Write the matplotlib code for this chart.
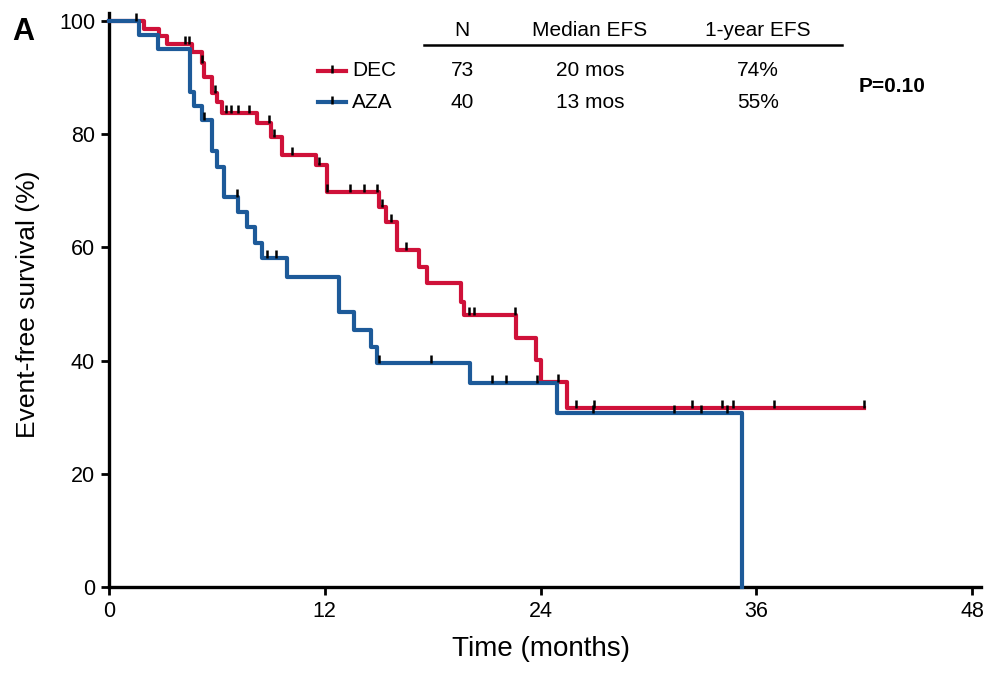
import numpy as np
import matplotlib.pyplot as plt
from matplotlib.lines import Line2D

# Kaplan-Meier step data (months, EFS %)
dec_times = [0, 1.95, 2.78, 3.23, 4.62, 5.18, 5.3, 5.73, 6.0, 6.29, 8.24, 9.0, 9.6,
             11.5, 12.1, 15.0, 15.4, 16.0, 17.25, 17.7, 19.6, 19.75, 22.65, 23.76,
             24.0, 25.5]
dec_surv = [100, 98.6, 97.3, 95.9, 94.5, 92.6, 90.1, 87.3, 85.7, 83.7, 82.0, 79.5, 76.3,
            74.6, 69.8, 67.1, 64.5, 59.5, 56.5, 53.7, 50.4, 48.1, 44.0, 40.1,
            36.2, 31.6]
dec_end = 42.0
dec_cens = [1.5, 4.2, 4.45, 5.2, 5.9, 6.5, 6.8, 7.2, 7.8, 8.9, 9.2, 10.2, 11.7, 12.1,
            13.4, 14.2, 14.9, 15.2, 15.7, 16.5, 20.0, 20.3, 22.6, 25.0, 26.0, 27.0,
            32.4, 34.1, 34.7, 37.0, 42.0]

aza_times = [0, 1.67, 2.73, 4.5, 4.7, 5.2, 5.75, 6.0, 6.4, 7.2, 7.7, 8.1, 8.5, 9.9,
             12.8, 13.6, 14.6, 14.9, 20.1, 24.9, 35.2]
aza_surv = [100, 97.5, 95.0, 87.5, 85.0, 82.5, 77.1, 74.2, 68.9, 66.3, 63.6, 60.8,
            58.1, 54.8, 48.6, 45.4, 42.4, 39.6, 36.0, 30.7, 0]
aza_end = 35.2
aza_cens = [5.3, 7.1, 8.8, 9.3, 15.0, 17.9, 21.3, 22.1, 23.8, 26.9, 31.4, 32.9, 34.4]

groups = ['DEC', 'AZA']
n_pts = ['73', '40']
median_efs = ['20 mos', '13 mos']
year_efs = ['74%', '55%']
p_text = 'P=0.10'

red = '#cf1139'
blue = '#1d5a99'

plt.rcParams['font.family'] = ['Liberation Sans Narrow', 'Liberation Sans', 'DejaVu Sans']

W, H = 988, 675
fig = plt.figure(figsize=(W / 100, H / 100), dpi=100)
ax = fig.add_axes([109 / W, 1 - 587 / H, (972 - 109) / W, (587 - 21) / H])


def km_value(times, surv, t):
    idx = np.searchsorted(times, t, side='right') - 1
    return surv[idx]


for times, surv, end, cens, col in [(dec_times, dec_surv, dec_end, dec_cens, red),
                                    (aza_times, aza_surv, aza_end, aza_cens, blue)]:
    xs = list(times) + [end]
    ys = list(surv) + [surv[-1]]
    ax.step(xs, ys, where='post', color=col, lw=3.0, clip_on=False, zorder=3)
    cy = [km_value(times, surv, c) + 0.7 for c in cens]
    ax.plot(cens, cy, ls='none', marker='|', color='black', ms=6, mew=1.8,
            zorder=4, clip_on=False)

ax.set_xlim(0, 48)
ax.set_ylim(0, 100)
ax.set_xticks([0, 12, 24, 36, 48])
ax.set_yticks([0, 20, 40, 60, 80, 100])
ax.tick_params(labelsize=15.5, width=2, length=6, direction='out', pad=4)
for s in ['top', 'right']:
    ax.spines[s].set_visible(False)
for s in ['left', 'bottom']:
    ax.spines[s].set_linewidth(2.4)
ax.spines['left'].set_bounds(0, 101.5)
ax.spines['bottom'].set_bounds(0, 48.5)
ax.set_xlabel('Time (months)', fontsize=20, labelpad=10)
ax.set_ylabel('Event-free survival (%)', fontsize=19, labelpad=14)

# panel letter
fig.text(12 / W, 1 - 32 / H, 'A', fontsize=22, fontweight='bold', va='center',
         family=['Liberation Sans', 'DejaVu Sans'])

# table-style legend
col_x = [462, 590, 758]
headers = ['N', 'Median EFS', '1-year EFS']
for x, h in zip(col_x, headers):
    fig.text(x / W, 1 - 30 / H, h, fontsize=15, ha='center', va='center')
fig.add_artist(Line2D([424 / W, 842 / W], [1 - 45 / H, 1 - 45 / H],
                      color='black', lw=1.8))

row_y = [71, 102]
for i, (g, col) in enumerate(zip(groups, [red, blue])):
    yy = 1 - row_y[i] / H
    fig.add_artist(Line2D([318 / W, 346 / W], [yy, yy], color=col, lw=3.0))
    fig.add_artist(Line2D([332 / W], [yy + 0.003], color='black', marker='|',
                          ms=6, mew=1.8, ls='none'))
    fig.text(352 / W, yy, g, fontsize=15, va='center')
    fig.text(col_x[0] / W, yy, n_pts[i], fontsize=15, ha='center', va='center')
    fig.text(col_x[1] / W, yy, median_efs[i], fontsize=15, ha='center', va='center')
    fig.text(col_x[2] / W, yy, year_efs[i], fontsize=15, ha='center', va='center')

fig.text(892 / W, 1 - 86 / H, p_text, fontsize=15, fontweight='bold',
         ha='center', va='center', family=['Liberation Sans', 'DejaVu Sans'])

fig.savefig('out.png', dpi=100)
